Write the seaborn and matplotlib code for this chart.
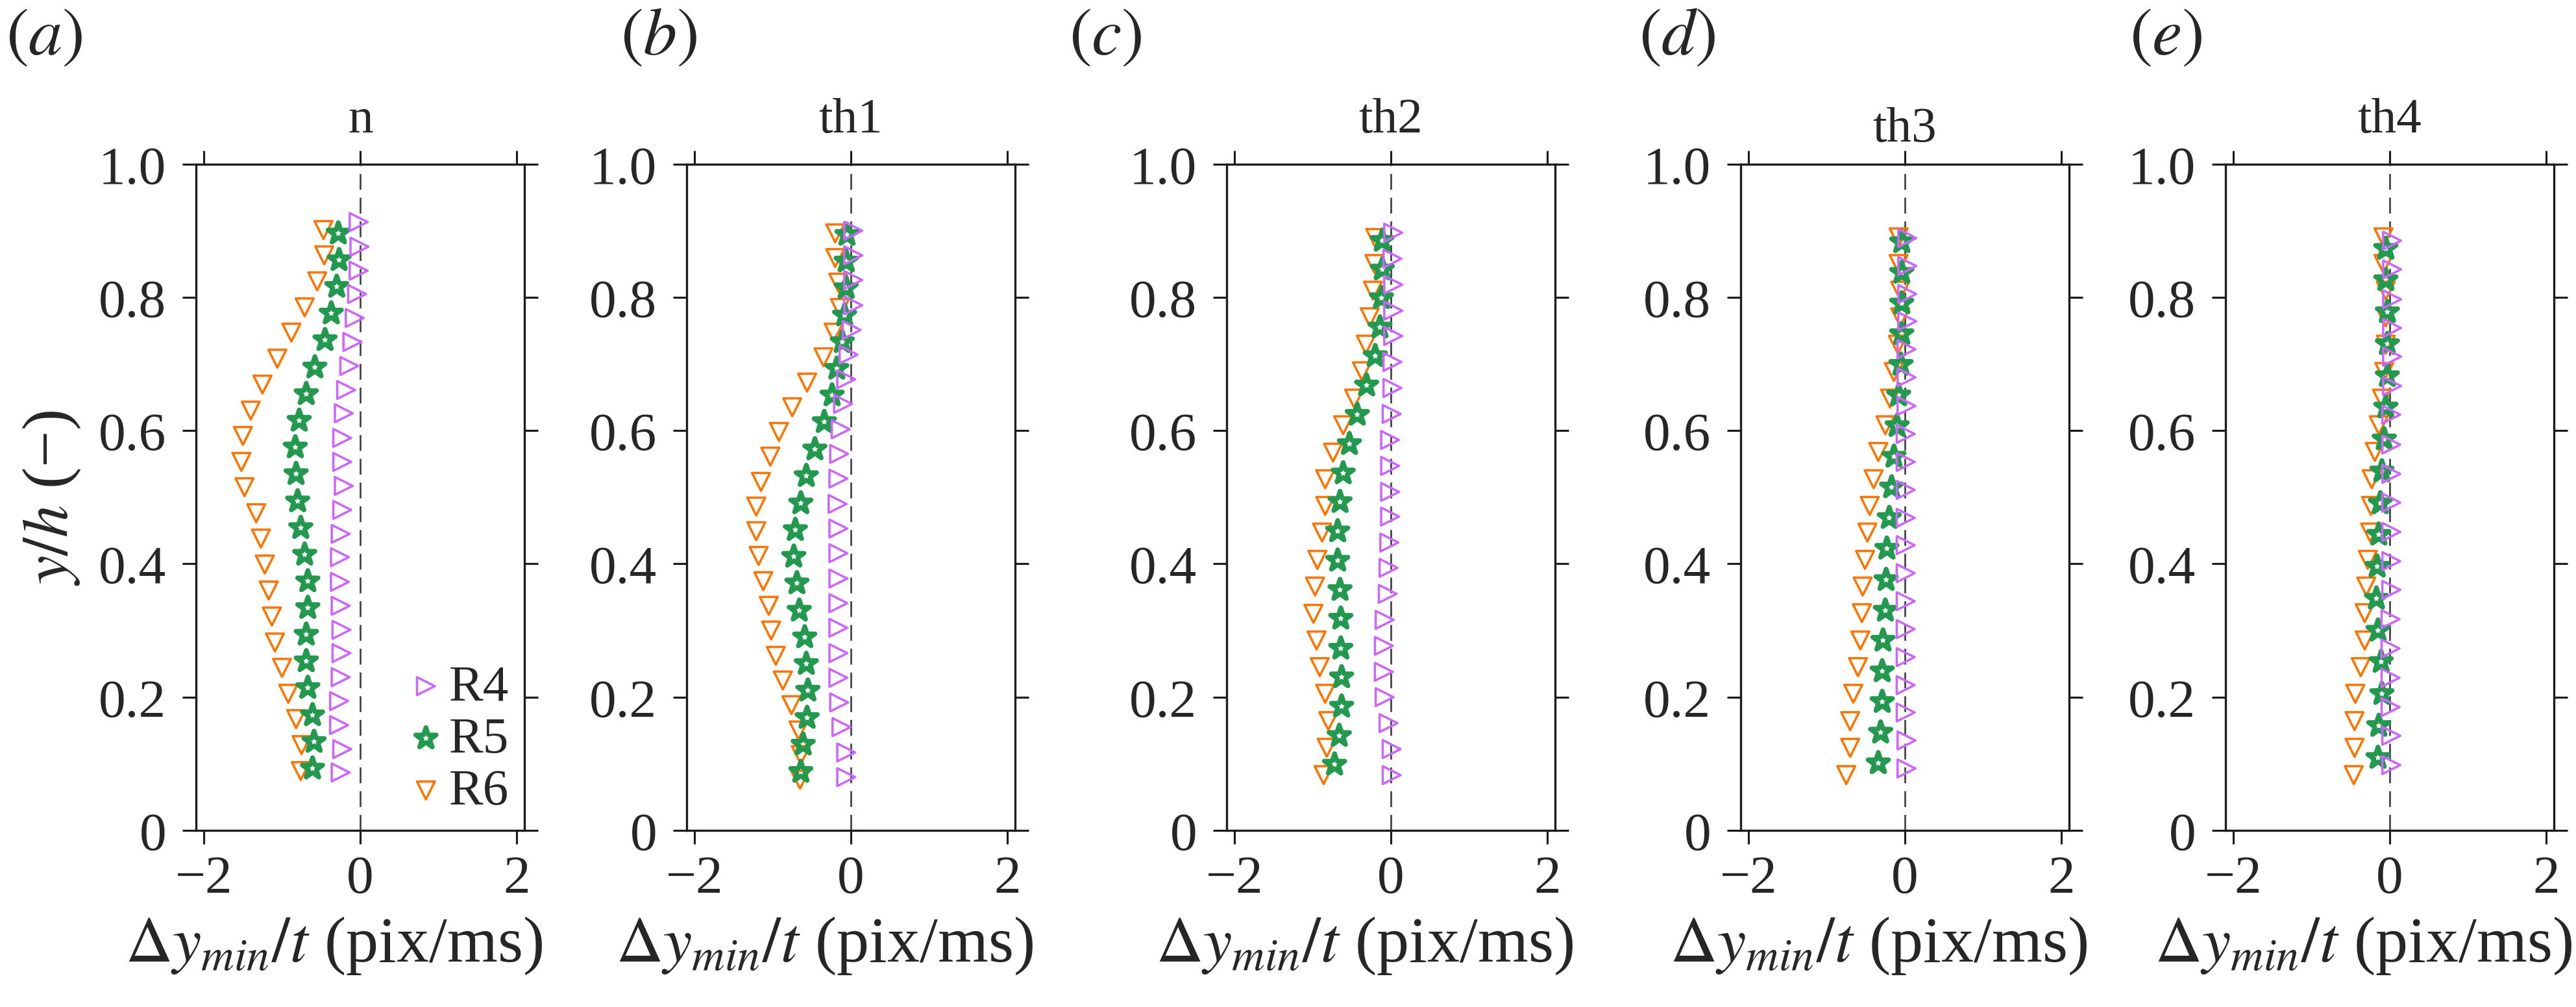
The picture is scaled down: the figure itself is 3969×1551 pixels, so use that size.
import matplotlib
matplotlib.use("Agg")
import matplotlib.pyplot as plt
import seaborn as sns

# ---- data (x = dy_min/t in pix/ms, y = y/h) ----
panels = ["n", "th1", "th2", "th3", "th4"]
letters = ["a", "b", "c", "d", "e"]
series = ["R4", "R5", "R6"]

n_r4_y = [0.913, 0.876, 0.84, 0.805, 0.769, 0.733, 0.697, 0.661, 0.626, 0.589, 0.553, 0.517,
          0.481, 0.445, 0.41, 0.373, 0.337, 0.301, 0.266, 0.23, 0.194, 0.158, 0.122, 0.087]
n_r4_x = [-0.02, -0.01, -0.02, -0.04, -0.07, -0.10, -0.14, -0.18, -0.21, -0.23, -0.23, -0.21,
          -0.23, -0.25, -0.26, -0.26, -0.25, -0.24, -0.24, -0.25, -0.27, -0.27, -0.23, -0.25]
n_r5_y = [0.896, 0.856, 0.816, 0.776, 0.736, 0.695, 0.655, 0.615, 0.575, 0.535, 0.494,
          0.454, 0.414, 0.374, 0.334, 0.294, 0.254, 0.214, 0.173, 0.133, 0.093]
n_r5_x = [-0.28, -0.27, -0.30, -0.37, -0.45, -0.58, -0.69, -0.78, -0.83, -0.82, -0.80,
          -0.76, -0.71, -0.67, -0.67, -0.69, -0.69, -0.67, -0.61, -0.59, -0.61]
n_r6_y = [0.901, 0.863, 0.824, 0.785, 0.747, 0.708, 0.669, 0.63, 0.592, 0.553, 0.515,
          0.476, 0.438, 0.399, 0.36, 0.321, 0.282, 0.244, 0.205, 0.167, 0.128, 0.089]
n_r6_x = [-0.47, -0.46, -0.55, -0.71, -0.88, -1.06, -1.25, -1.40, -1.50, -1.52, -1.48,
          -1.33, -1.27, -1.22, -1.17, -1.13, -1.09, -1.00, -0.92, -0.82, -0.75, -0.76]

th1_r4_y = [0.9, 0.863, 0.826, 0.788, 0.751, 0.714, 0.677, 0.64, 0.602, 0.565, 0.528, 0.49,
            0.453, 0.416, 0.378, 0.341, 0.304, 0.266, 0.229, 0.192, 0.155, 0.117, 0.08]
th1_r4_x = [0.03, 0.03, 0.03, 0.03, 0.01, -0.03, -0.06, -0.10, -0.13, -0.15, -0.16, -0.17,
            -0.16, -0.16, -0.16, -0.16, -0.16, -0.16, -0.16, -0.15, -0.12, -0.06, -0.06]
th1_r5_y = [0.894, 0.854, 0.814, 0.773, 0.733, 0.693, 0.653, 0.613, 0.572, 0.532, 0.491,
            0.451, 0.411, 0.371, 0.33, 0.29, 0.25, 0.21, 0.169, 0.129, 0.088]
th1_r5_x = [-0.05, -0.06, -0.06, -0.08, -0.11, -0.18, -0.24, -0.34, -0.46, -0.57, -0.64,
            -0.71, -0.73, -0.69, -0.66, -0.59, -0.57, -0.55, -0.56, -0.61, -0.64]
th1_r6_y = [0.896, 0.859, 0.822, 0.784, 0.747, 0.71, 0.672, 0.635, 0.598, 0.561, 0.523, 0.486,
            0.449, 0.412, 0.374, 0.337, 0.3, 0.262, 0.225, 0.188, 0.15, 0.113, 0.076]
th1_r6_x = [-0.20, -0.20, -0.16, -0.14, -0.22, -0.35, -0.56, -0.75, -0.92, -1.03, -1.15, -1.21,
            -1.21, -1.18, -1.12, -1.05, -1.02, -0.96, -0.87, -0.76, -0.67, -0.64, -0.65]

th2_r4_y = [0.897, 0.858, 0.819, 0.78, 0.742, 0.703, 0.664, 0.625, 0.586, 0.547, 0.508,
            0.471, 0.432, 0.394, 0.355, 0.316, 0.277, 0.238, 0.2, 0.161, 0.122, 0.083]
th2_r4_x = [0.03, 0.02, 0.03, 0.03, 0.03, 0.02, 0.02, 0.01, -0.01, -0.01, -0.01,
            -0.01, -0.02, -0.03, -0.04, -0.08, -0.09, -0.09, -0.08, -0.03, 0.01, 0.01]
th2_r5_y = [0.885, 0.842, 0.799, 0.755, 0.712, 0.668, 0.624, 0.58, 0.536, 0.493,
            0.449, 0.405, 0.361, 0.318, 0.273, 0.23, 0.186, 0.142, 0.099]
th2_r5_x = [-0.11, -0.11, -0.12, -0.14, -0.20, -0.31, -0.43, -0.53, -0.61, -0.65,
            -0.68, -0.68, -0.65, -0.64, -0.64, -0.63, -0.63, -0.66, -0.72]
th2_r6_y = [0.889, 0.85, 0.81, 0.77, 0.729, 0.689, 0.648, 0.608, 0.567, 0.527, 0.487,
            0.447, 0.406, 0.366, 0.325, 0.285, 0.245, 0.205, 0.164, 0.124, 0.083]
th2_r6_x = [-0.20, -0.21, -0.23, -0.27, -0.32, -0.37, -0.47, -0.61, -0.74, -0.84, -0.84,
            -0.88, -0.94, -0.97, -0.99, -0.95, -0.91, -0.84, -0.80, -0.82, -0.86]

th3_r4_y = [0.889, 0.847, 0.805, 0.764, 0.722, 0.68, 0.637, 0.595, 0.553, 0.511,
            0.469, 0.428, 0.386, 0.344, 0.302, 0.26, 0.218, 0.177, 0.135, 0.093]
th3_r4_x = [0.03, 0.03, 0.03, 0.03, 0.02, 0.02, 0.02, 0.01, 0.01, 0.01,
            0.01, 0.01, 0.01, 0.01, 0.01, 0.01, 0.01, 0.01, 0.02, 0.02]
th3_r5_y = [0.883, 0.837, 0.791, 0.745, 0.699, 0.653, 0.607, 0.561, 0.515,
            0.469, 0.423, 0.376, 0.33, 0.285, 0.239, 0.193, 0.147, 0.101]
th3_r5_x = [-0.04, -0.04, -0.04, -0.04, -0.05, -0.08, -0.10, -0.14, -0.17,
            -0.20, -0.23, -0.24, -0.25, -0.28, -0.29, -0.29, -0.31, -0.34]
th3_r6_y = [0.89, 0.85, 0.81, 0.77, 0.729, 0.688, 0.648, 0.608, 0.568, 0.527, 0.487,
            0.447, 0.406, 0.366, 0.326, 0.285, 0.245, 0.205, 0.164, 0.124, 0.083]
th3_r6_x = [-0.08, -0.08, -0.06, -0.06, -0.09, -0.14, -0.19, -0.25, -0.34, -0.40, -0.45,
            -0.48, -0.51, -0.54, -0.55, -0.57, -0.60, -0.66, -0.70, -0.70, -0.75]

th4_r4_y = [0.885, 0.842, 0.797, 0.754, 0.711, 0.667, 0.624, 0.579, 0.535, 0.492,
            0.448, 0.404, 0.361, 0.317, 0.273, 0.229, 0.185, 0.142, 0.098]
th4_r4_x = [0.03, 0.03, 0.03, 0.03, 0.03, 0.03, 0.02, 0.02, 0.02, 0.02,
            0.02, 0.02, 0.02, 0.01, 0.01, 0.01, 0.01, 0.02, 0.02]
th4_r5_y = [0.873, 0.826, 0.778, 0.73, 0.682, 0.635, 0.587, 0.539, 0.491,
            0.444, 0.396, 0.348, 0.3, 0.253, 0.205, 0.157, 0.109]
th4_r5_x = [-0.05, -0.05, -0.03, -0.03, -0.03, -0.05, -0.07, -0.10, -0.12,
            -0.14, -0.16, -0.17, -0.15, -0.11, -0.10, -0.14, -0.15]
th4_r6_y = [0.89, 0.85, 0.81, 0.77, 0.729, 0.688, 0.648, 0.608, 0.568, 0.527, 0.487,
            0.447, 0.406, 0.366, 0.326, 0.285, 0.245, 0.205, 0.164, 0.124, 0.083]
th4_r6_x = [-0.08, -0.08, -0.05, -0.05, -0.05, -0.07, -0.10, -0.14, -0.19, -0.23, -0.24,
            -0.25, -0.28, -0.30, -0.32, -0.32, -0.37, -0.44, -0.45, -0.45, -0.46]

data = {
    "n": [(n_r4_x, n_r4_y), (n_r5_x, n_r5_y), (n_r6_x, n_r6_y)],
    "th1": [(th1_r4_x, th1_r4_y), (th1_r5_x, th1_r5_y), (th1_r6_x, th1_r6_y)],
    "th2": [(th2_r4_x, th2_r4_y), (th2_r5_x, th2_r5_y), (th2_r6_x, th2_r6_y)],
    "th3": [(th3_r4_x, th3_r4_y), (th3_r5_x, th3_r5_y), (th3_r6_x, th3_r6_y)],
    "th4": [(th4_r4_x, th4_r4_y), (th4_r5_x, th4_r5_y), (th4_r6_x, th4_r6_y)],
}

xticks = [-2, 0, 2]
xticklabels = ["\u22122", "0", "2"]
yticks = [0, 0.2, 0.4, 0.6, 0.8, 1.0]
yticklabels = ["0", "0.2", "0.4", "0.6", "0.8", "1.0"]

# ---- style ----
sns.set_style("ticks")
plt.rcParams["font.family"] = ["Liberation Serif", "DejaVu Serif"]
plt.rcParams["mathtext.fontset"] = "stix"
plt.rcParams["axes.linewidth"] = 0.8
plt.rcParams["axes.edgecolor"] = "#1c1c1c"

colors = {"R4": "#cc66ff", "R5": "#22994e", "R6": "#ff7400"}
markers = {"R4": ">", "R5": "*", "R6": "v"}
msize = {"R4": 6.6, "R5": 8.0, "R6": 6.6}
mew = {"R4": 0.85, "R5": 1.7, "R6": 0.85}

W, H = 3969, 1552
fig = plt.figure(figsize=(W / 300, H / 300), dpi=300)

ax_left_px = [302, 1058, 1890, 2682, 3429]
label_left_px = [9, 956, 1647, 2525, 3281]
title_pad = [12, 12, 12, 8.6, 12]
bottom = (H - 1280) / H
height = (1280 - 253.7) / H
width = 506 / W

for i, name in enumerate(panels):
    ax = fig.add_axes([ax_left_px[i] / W, bottom, width, height])
    ax.axvline(0, color="#3d4145", lw=0.65, ls=(0, (9, 4.5)), zorder=0)
    # draw R6 first so that R4 ends up on top
    for j in [2, 1, 0]:
        s = series[j]
        xs, ys = data[name][j]
        sns.scatterplot(x=xs, y=ys, ax=ax, marker=markers[s], s=msize[s] ** 2,
                        color=colors[s], facecolors="none", edgecolor=colors[s],
                        linewidth=mew[s], label=s, legend=False)
    ax.set_xlim(-2.1, 2.1)
    ax.set_ylim(0, 1.0)
    ax.set_xticks(xticks, xticklabels)
    ax.set_yticks(yticks, yticklabels)
    ax.tick_params(which="both", direction="out", top=True, right=True,
                   length=5, width=0.75, labelsize=20, color="#1c1c1c")
    ax.tick_params(axis="x", pad=4)
    ax.tick_params(axis="y", pad=6)
    ax.set_title(name, fontsize=18.5, pad=title_pad[i])
    ax.set_xlabel(r"$\Delta y_{min}/t$ (pix/ms)", fontsize=24, labelpad=4)
    # label ends a little past the right spine, as in the original
    ax.xaxis.label.set_ha("right")
    ax.xaxis.label.set_x(1.055)
    if i == 0:
        ax.set_ylabel("$y/h$ (\u2212)", fontsize=24, labelpad=6)
        handles, labels = ax.get_legend_handles_labels()
        ax.legend(handles[::-1], labels[::-1], loc="lower right", frameon=False,
                  fontsize=19, handlelength=0.6, handletextpad=0.15,
                  labelspacing=0.1, borderpad=0.2, borderaxespad=0.1)
    fig.text(label_left_px[i] / W, 1 - 12 / H, r"$(%s)$" % letters[i],
             fontsize=25, ha="left", va="top")

fig.savefig("out.png", dpi=300)
